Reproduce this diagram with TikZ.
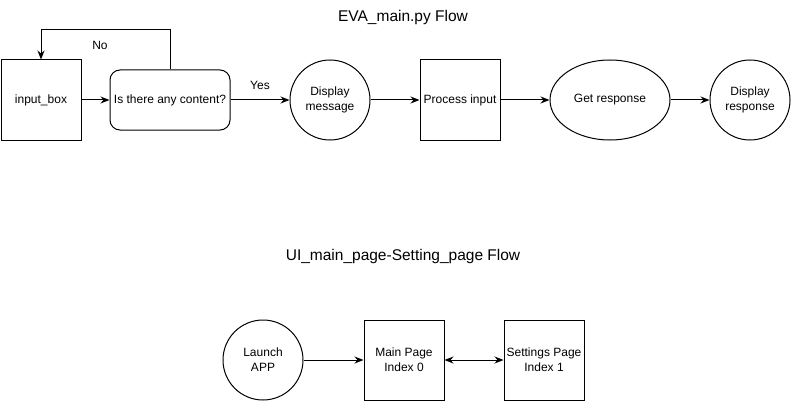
\documentclass[tikz,border=0pt]{standalone}
\usepackage{fontspec}
\setmainfont{Liberation Sans}
\usetikzlibrary{arrows.meta,shapes.geometric}

\begin{document}
\begin{tikzpicture}
 [x=1pt,y=-1pt,
   every node/.style={font=\fontsize{12}{15}\selectfont,align=center,line width=1pt},
   box/.style={draw,minimum width=80pt,minimum height=80pt,inner sep=1pt},
   roundbox/.style={draw,rounded corners=10pt,minimum width=120pt,minimum height=60pt,inner sep=1pt},
   disc/.style={draw,circle,minimum size=80pt,inner sep=1pt},
   oval/.style={draw,ellipse,minimum width=120pt,minimum height=80pt,inner sep=1pt},
   title/.style={font=\fontsize{15.5}{18}\selectfont},
   flow/.style={-{Stealth[length=9pt,width=7pt]},line width=1pt}]
  \useasboundingbox (0,0) rectangle (791,401);
  % EVA_main.py flow
  \node[title] (top title) at (403,17) {EVA\_main.py Flow};
  \node[box] (input) at (41,100) {input\_box};
  \node[roundbox] (check) at (170,100) {Is there any content?};
  \node[disc] (show msg) at (330,100) {Display\\message};
  \node[box] (process) at (460,100) {Process input};
  \node[oval] (response) at (610,100) {Get response};
  \node[disc] (show resp) at (750,100) {Display\\response};
  \coordinate (no up) at (170,30);
  \coordinate (no left) at (41,30);
  \draw[flow] (input) -- (check);
  \draw[flow] (check.north) -- (no up) -- (no left) -- (input.north);
  \node (no) at (100,45) {No};
  \draw[flow] (check) -- (show msg);
  \node (yes) at (260,85) {Yes};
  \draw[flow] (show msg) -- (process);
  \draw[flow] (process) -- (response);
  \draw[flow] (response) -- (show resp);
  % UI_main_page-Setting_page flow
  \node[title] (bottom title) at (403,256) {UI\_main\_page-Setting\_page Flow};
  \node[disc] (launch) at (263,360) {Launch\\APP};
  \node[box] (main page) at (404,360) {Main Page\\Index 0};
  \node[box] (settings) at (544,360) {Settings Page\\Index 1};
  \draw[flow] (launch) -- (main page);
  \draw[{Stealth[length=9pt,width=7pt]}-{Stealth[length=9pt,width=7pt]},line width=1pt] (main page) -- (settings);
\end{tikzpicture}
\end{document}
